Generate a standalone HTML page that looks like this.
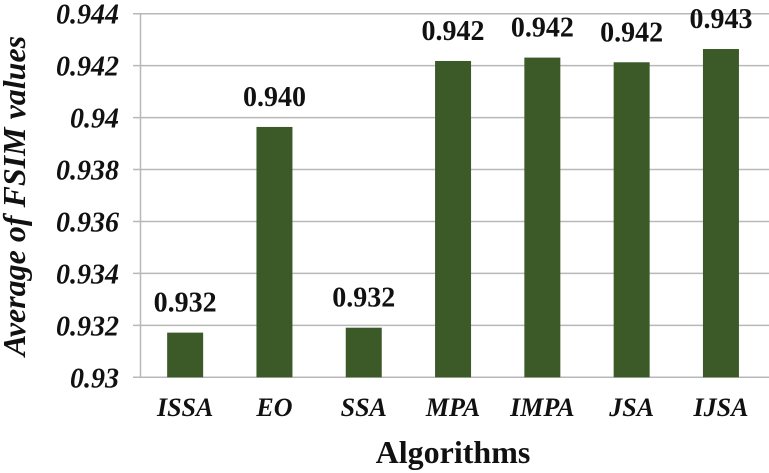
<!DOCTYPE html>
<html><head><meta charset="utf-8"><style>
html,body{margin:0;padding:0;background:#fff;}
svg{display:block;font-family:"Liberation Serif",serif;}
</style></head><body>
<svg id="chart" width="769" height="473">
<g id="grid"></g><g id="bars"></g><g id="labels"></g>
<text x="453" y="463" text-anchor="middle" font-weight="bold" font-size="32" fill="#111">Algorithms</text>
<text transform="translate(25,196) rotate(-90)" text-anchor="middle" font-weight="bold" font-style="italic" font-size="32" fill="#111">Average of FSIM values</text>
</svg>
<script>
const categories=["ISSA","EO","SSA","MPA","IMPA","JSA","IJSA"];
const values=[0.93172,0.93964,0.93191,0.94218,0.94231,0.94213,0.94264];
const valueLabels=["0.932","0.940","0.932","0.942","0.942","0.942","0.943"];
const yTicks=[0.93,0.932,0.934,0.936,0.938,0.94,0.942,0.944];
const yTickLabels=["0.93","0.932","0.934","0.936","0.938","0.94","0.942","0.944"];
const NS="http://www.w3.org/2000/svg";
const L=140.5,R=769,T=13.7,B=377.3,yMin=0.93,yMax=0.944,band=89.3,bw=36;
const y=v=>B-(v-yMin)/(yMax-yMin)*(B-T);
const x=i=>L+band*(i+0.5);
function mk(tag,attrs,parent){const e=document.createElementNS(NS,tag);for(const k in attrs)e.setAttribute(k,attrs[k]);parent.appendChild(e);return e;}
const g=document.getElementById('grid'),gb=document.getElementById('bars'),gl=document.getElementById('labels');
yTicks.forEach((t,i)=>{
 const ln=mk('line',{x1:133,x2:R,y1:y(t),y2:y(t),stroke:'#b8b8b8','stroke-width':1.5},g);
 
 
 const tx=mk('text',{x:119,y:y(t)+10,'text-anchor':'end','font-size':28,'font-weight':'bold','font-style':'italic',fill:'#111'},g);
 tx.textContent=yTickLabels[i];
 
 
});
const ax=mk('line',{x1:L,x2:L,y1:T,y2:B,stroke:'#b8b8b8','stroke-width':1.5},g);


categories.forEach((c,i)=>{
 const r=mk('rect',{x:x(i)-bw/2,y:y(values[i]),width:bw,height:B-y(values[i]),fill:'#3b5a28'},gb);
 
 
 const v=mk('text',{x:x(i),y:y(values[i])-21,'text-anchor':'middle','font-size':28,'font-weight':'bold',fill:'#111'},gl);
 v.textContent=valueLabels[i];
 
 
 const cl=mk('text',{x:x(i),y:416,'text-anchor':'middle','font-size':26,'font-weight':'bold','font-style':'italic',fill:'#111'},gl);
 cl.textContent=c;
 
 
});
</script>
</body></html>
